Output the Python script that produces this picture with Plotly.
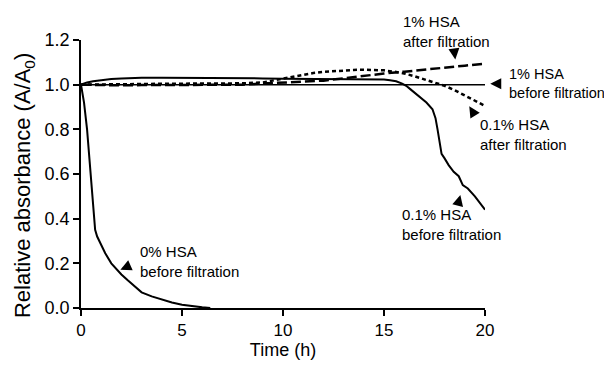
import plotly.graph_objects as go

# ---- data ----
x_0pct_before = [0, 0.15, 0.3, 0.45, 0.6, 0.7, 0.8, 1.0, 1.2, 1.5, 2.0, 2.3, 2.6, 3.0, 3.5, 4.0, 4.5, 5.0, 5.5, 6.0, 6.4]
y_0pct_before = [1.0, 0.92, 0.8, 0.63, 0.46, 0.35, 0.32, 0.28, 0.245, 0.2, 0.15, 0.125, 0.1, 0.07, 0.052, 0.037, 0.025, 0.015, 0.008, 0.003, 0.0]

x_1pct_before = [0, 20]
y_1pct_before = [1.0, 1.0]

x_01pct_before = [0, 0.3, 0.6, 1.0, 1.5, 2.0, 2.5, 3, 4, 5, 6, 7, 8, 9, 10, 11, 12, 13, 14, 14.5, 15,
                  15.3, 15.6, 15.9, 16.1, 16.3, 16.5, 16.8, 17.1, 17.4, 17.55, 17.65, 17.75, 17.85, 18.0,
                  18.2, 18.45, 18.7, 18.9, 19.15, 19.5, 19.75, 20]
y_01pct_before = [1.0, 1.01, 1.015, 1.02, 1.025, 1.028, 1.03, 1.031, 1.031, 1.031, 1.031, 1.03, 1.03, 1.028,
                  1.027, 1.026, 1.025, 1.025, 1.025, 1.025, 1.023, 1.02, 1.015, 1.005, 0.995, 0.98, 0.965,
                  0.945, 0.92, 0.89, 0.85, 0.8, 0.74, 0.69, 0.67, 0.64, 0.61, 0.59, 0.55, 0.535, 0.5, 0.47, 0.44]

x_1pct_after = [0, 1, 2, 3, 4, 5, 6, 7, 8, 9, 10, 11, 12, 13, 14, 15, 16, 17, 18, 19, 20]
y_1pct_after = [1.0, 0.998, 0.997, 0.998, 0.998, 1.0, 1.0, 0.999, 1.0, 1.005, 1.01, 1.013, 1.018, 1.028,
                1.04, 1.05, 1.058, 1.066, 1.075, 1.085, 1.094]

x_01pct_after = [0, 1, 2, 3, 4, 5, 6, 7, 8, 9, 9.5, 10, 10.5, 11, 11.5, 12, 12.5, 13, 13.5, 14, 14.5, 15,
                 15.5, 16, 16.5, 17, 17.5, 18, 18.5, 19, 19.5, 20]
y_01pct_after = [1.0, 1.002, 1.003, 1.003, 1.004, 1.004, 1.005, 1.005, 1.006, 1.01, 1.018, 1.028, 1.037,
                 1.045, 1.052, 1.057, 1.061, 1.064, 1.066, 1.067, 1.067, 1.064, 1.058, 1.05, 1.038, 1.024,
                 1.01, 0.995, 0.975, 0.952, 0.928, 0.905]

x_ticks = [0, 5, 10, 15, 20]
y_ticks = [0.0, 0.2, 0.4, 0.6, 0.8, 1.0, 1.2]
X_RANGE = [0, 20]
Y_RANGE = [0, 1.2]

labels = ["1% HSA<br>after filtration", "1% HSA<br>before filtration", "0.1% HSA<br>after filtration",
          "0.1% HSA<br>before filtration", "0% HSA<br>before filtration"]
label_x = [15.84, 21.1, 19.67, 15.8, 2.84]
label_y = [1.238, 1.006, 0.778, 0.372, 0.207]
label_size = [15, 14.5, 15, 15, 15]

arrow_x = [18.53, 20.26, 19.22, 18.78, 1.95]
arrow_y = [1.113, 1.0036, 0.903, 0.506, 0.171]
arrow_ax = [-1, 9, 5, -2, 9]
arrow_ay = [-8, 0, 8, 8, -4]

y_title = "Relative absorbance (A/A<sub>0</sub>)"
x_title = "Time (h)"

FONT = "Liberation Sans, Arial, sans-serif"


def px(v):
    return (v - X_RANGE[0]) / (X_RANGE[1] - X_RANGE[0])


def py(v):
    return (v - Y_RANGE[0]) / (Y_RANGE[1] - Y_RANGE[0])


fig = go.Figure()
fig.add_trace(go.Scatter(x=x_1pct_before, y=y_1pct_before, mode="lines",
                         line=dict(color="black", width=1.5)))
fig.add_trace(go.Scatter(x=x_1pct_after, y=y_1pct_after, mode="lines",
                         line=dict(color="black", width=2.5, dash="10px,4px")))
fig.add_trace(go.Scatter(x=x_01pct_after, y=y_01pct_after, mode="lines",
                         line=dict(color="black", width=2.5, dash="4px,3px")))
fig.add_trace(go.Scatter(x=x_01pct_before, y=y_01pct_before, mode="lines",
                         line=dict(color="black", width=2)))
fig.add_trace(go.Scatter(x=x_0pct_before, y=y_0pct_before, mode="lines",
                         line=dict(color="black", width=2)))

for t, lx, ly, fs in zip(labels, label_x, label_y, label_size):
    fig.add_annotation(x=px(lx), y=py(ly), xref="paper", yref="paper", text=t, showarrow=False,
                       xanchor="left", yanchor="middle", align="left",
                       font=dict(family=FONT, size=fs, color="black"))

for ax_, ay_, dx, dy in zip(arrow_x, arrow_y, arrow_ax, arrow_ay):
    fig.add_annotation(x=px(ax_), y=py(ay_), xref="paper", yref="paper", text="", showarrow=True,
                       arrowhead=2, arrowsize=1.1, arrowwidth=2, arrowcolor="black",
                       ax=dx, ay=dy, standoff=0)

# y-axis title drawn as a rotated annotation (placed slightly below the plot centre, as in the reference)
fig.add_annotation(x=-0.141, y=0.455, xref="paper", yref="paper", text=y_title, textangle=-90,
                   showarrow=False, xanchor="center", yanchor="middle",
                   font=dict(family=FONT, size=22, color="black"))

fig.update_layout(
    width=612, height=366,
    margin=dict(l=73, r=135, t=32, b=66),
    paper_bgcolor="white", plot_bgcolor="white",
    showlegend=False,
    font=dict(family=FONT, size=17, color="black"),
)
fig.update_xaxes(range=X_RANGE, tickvals=x_ticks, ticktext=[str(v) for v in x_ticks],
                 showline=True, linecolor="black", linewidth=1.5, ticks="outside", ticklen=6,
                 tickwidth=1.5, tickcolor="black", showgrid=False, zeroline=False, automargin=False,
                 tickfont=dict(family=FONT, size=17),
                 title=dict(text=x_title, font=dict(family=FONT, size=18), standoff=2))
fig.update_yaxes(range=Y_RANGE, tickvals=y_ticks, ticktext=[f"{v:.1f}" for v in y_ticks],
                 showline=True, linecolor="black", linewidth=1.5, ticks="outside", ticklen=6,
                 tickwidth=1.5, tickcolor="black", showgrid=False, zeroline=False, automargin=False,
                 tickfont=dict(family=FONT, size=18))

fig.write_html("out.html")
